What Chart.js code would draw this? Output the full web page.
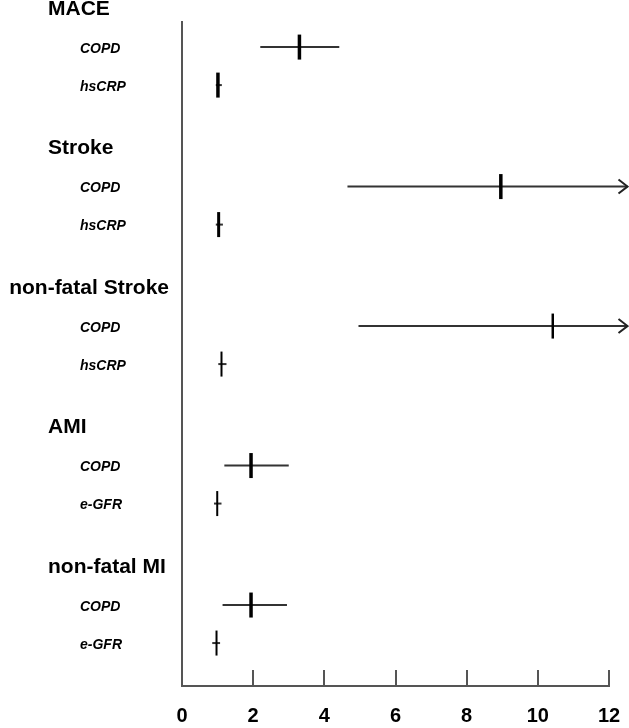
<!DOCTYPE html>
<html>
<head>
<meta charset="utf-8">
<script src="https://cdn.jsdelivr.net/npm/chart.js@4/dist/chart.umd.min.js"></script>
<style>
  html, body { margin: 0; padding: 0; background: #fff; }
  #wrap { width: 629px; height: 728px; position: relative; }
</style>
</head>
<body>
<div id="wrap"><canvas id="c" width="629" height="728"></canvas></div>
<script>
// ---- data ----
const groups = ['MACE', 'Stroke', 'non-fatal Stroke', 'AMI', 'non-fatal MI'];
const predictors = [['COPD', 'hsCRP'], ['COPD', 'hsCRP'], ['COPD', 'hsCRP'], ['COPD', 'e-GFR'], ['COPD', 'e-GFR']];
const estimates = [3.30, 1.01, 8.96, 1.03, 10.42, 1.11, 1.94, 0.99, 1.94, 0.97];
const ciLow     = [2.20, 0.95, 4.65, 0.95, 4.96, 1.02, 1.19, 0.90, 1.14, 0.85];
// null = upper limit beyond the axis (drawn as an arrow)
const ciHigh    = [4.42, 1.12, null, 1.15, null, 1.25, 3.00, 1.11, 2.95, 1.07];
const xTicks = [0, 2, 4, 6, 8, 10, 12];

// ---- layout / style ----
const FONT = '"Liberation Sans", Arial, Helvetica, sans-serif';
const GROUP_STEP = 3.67;
const ARROW_END = 12.52;
const AXIS_COLOR = '#555';
const markerWidths = [3.5, 3.5, 3.5, 3, 2.5, 2, 3.5, 2, 3.5, 2];

const rowY = [];
groups.forEach((g, gi) => predictors[gi].forEach((p, k) => rowY.push(gi * GROUP_STEP + 1 + k)));

const ciDatasets = estimates.map((e, i) => ({
  type: 'line',
  data: [{x: ciLow[i], y: rowY[i]}, {x: ciHigh[i] === null ? ARROW_END : ciHigh[i], y: rowY[i]}],
  borderColor: '#333',
  borderWidth: 2,
  pointRadius: 0,
  pointHoverRadius: 0,
  clip: false,
  order: 2
}));

const pointDataset = {
  type: 'scatter',
  data: estimates.map((e, i) => ({x: e, y: rowY[i]})),
  pointStyle: 'line',
  rotation: 90,
  radius: 12.5,
  pointHoverRadius: 12.5,
  borderColor: '#000',
  backgroundColor: '#000',
  borderWidth: ctx => markerWidths[ctx.dataIndex] || 3,
  clip: false,
  order: 1
};

const decorPlugin = {
  id: 'decor',
  afterDatasetsDraw(chart) {
    const ctx = chart.ctx, xs = chart.scales.x, ys = chart.scales.y, area = chart.chartArea;
    ctx.save();
    // inward tick marks
    ctx.strokeStyle = AXIS_COLOR; ctx.lineWidth = 2;
    xTicks.forEach(v => {
      const px = Math.round(xs.getPixelForValue(v));
      ctx.beginPath(); ctx.moveTo(px, area.bottom); ctx.lineTo(px, area.bottom - 16); ctx.stroke();
    });
    // arrows for off-scale upper limits
    ctx.strokeStyle = '#222'; ctx.lineWidth = 2; ctx.lineJoin = 'miter';
    ciHigh.forEach((h, i) => {
      if (h !== null) return;
      const tip = xs.getPixelForValue(ARROW_END), py = ys.getPixelForValue(rowY[i]);
      ctx.beginPath(); ctx.moveTo(tip - 9, py - 7); ctx.lineTo(tip, py); ctx.lineTo(tip - 9, py + 7); ctx.stroke();
    });
    // labels
    ctx.fillStyle = '#000'; ctx.textBaseline = 'middle'; ctx.textAlign = 'left';
    let r = 0;
    groups.forEach((g, gi) => {
      ctx.font = 'bold 21px ' + FONT;
      const w = ctx.measureText(g).width;
      const hx = Math.min(48, area.left - 13 - w);
      ctx.fillText(g, hx, ys.getPixelForValue(gi * GROUP_STEP));
      ctx.font = 'italic bold 14px ' + FONT;
      predictors[gi].forEach(p => {
        ctx.fillText(p, 80, ys.getPixelForValue(rowY[r]) + 2);
        r++;
      });
    });
    ctx.restore();
  }
};

new Chart(document.getElementById('c'), {
  data: { datasets: [...ciDatasets, pointDataset] },
  options: {
    responsive: false,
    animation: false,
    events: [],
    layout: { padding: { left: 182, right: 20, top: 22, bottom: 0 } },
    plugins: { legend: { display: false }, tooltip: { enabled: false } },
    scales: {
      x: {
        type: 'linear', min: 0, max: 12,
        afterBuildTicks: s => { s.ticks = xTicks.map(v => ({value: v})); },
        afterFit: s => { s.height = 42; s.paddingRight = 0; s.paddingLeft = 0; },
        grid: { display: false, drawTicks: false },
        border: { display: true, color: AXIS_COLOR, width: 2 },
        ticks: { padding: 18, color: '#000', font: { family: FONT, size: 20, weight: 'bold' } }
      },
      y: {
        type: 'linear', reverse: true, min: 0.34, max: 17.81,
        grid: { display: false, drawTicks: false },
        border: { display: true, color: AXIS_COLOR, width: 2 },
        ticks: { display: false }
      }
    }
  },
  plugins: [decorPlugin]
});
</script>
</body>
</html>
